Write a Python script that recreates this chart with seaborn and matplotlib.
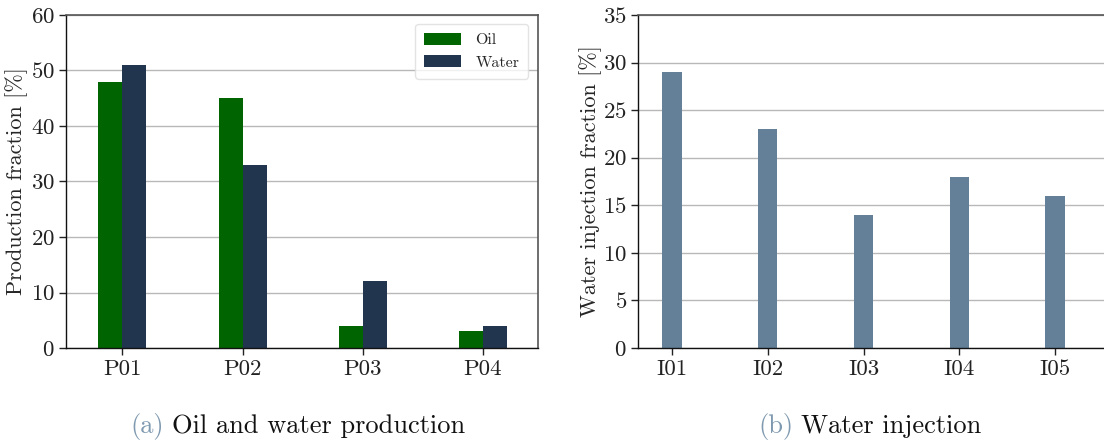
import numpy as np
import pandas as pd
import matplotlib
matplotlib.use("Agg")
import matplotlib.pyplot as plt
import seaborn as sns

# data
producers = ["P01", "P02", "P03", "P04"]
oil_frac = [48, 45, 4, 3]
water_frac = [51, 33, 12, 4]

injectors = ["I01", "I02", "I03", "I04", "I05"]
inj_frac = [29, 23, 14, 18, 16]

prod = pd.DataFrame({
    "well": producers * 2,
    "phase": ["Oil"] * len(producers) + ["Water"] * len(producers),
    "frac": oil_frac + water_frac,
})
inj = pd.DataFrame({"well": injectors, "frac": inj_frac})

sns.set_theme(style="ticks")
plt.rcParams["font.family"] = ["cmr10"]
plt.rcParams["mathtext.fontset"] = "cm"
plt.rcParams["axes.formatter.use_mathtext"] = True
plt.rcParams["axes.unicode_minus"] = False

fig = plt.figure(figsize=(11.04, 4.44), dpi=100)
W, H = 1104, 444
ax1 = fig.add_axes([66 / W, 1 - 348 / H, 472 / W, 333 / H])
ax2 = fig.add_axes([638 / W, 1 - 348 / H, 475 / W, 333 / H])

# (a) oil and water production
sns.barplot(data=prod, x="well", y="frac", hue="phase", ax=ax1,
            palette=["#006400", "#22354f"], width=0.4, saturation=1,
            linewidth=0)
ax1.set_ylim(0, 60)
ax1.set_yticks(range(0, 61, 10))
ax1.set_xlim(-0.47, 3.46)
ax1.set_xlabel("")
ax1.set_ylabel("Production fraction [%]", fontsize=16)
ax1.yaxis.set_label_coords(-0.081, 0.5)
leg = ax1.legend(loc="upper right", bbox_to_anchor=(0.979, 0.973),
                 borderaxespad=0, fontsize=11.5, handlelength=2.3,
                 handleheight=0.78, frameon=True, fancybox=True,
                 borderpad=0.55, labelspacing=0.5, handletextpad=0.9)
leg.get_frame().set_edgecolor("#dddddd")

# (b) water injection
sns.barplot(data=inj, x="well", y="frac", ax=ax2, color="#647f98",
            width=0.2, saturation=1, linewidth=0)
ax2.set_ylim(0, 35)
ax2.set_yticks(range(0, 36, 5))
ax2.set_xlim(-0.355, 4.605)
ax2.set_xlabel("")
ax2.set_ylabel("Water injection fraction [%]", fontsize=16)
ax2.yaxis.set_label_coords(-0.075, 0.5)

for ax in (ax1, ax2):
    ax.set_axisbelow(True)
    ax.yaxis.grid(True, color="#b8b8b8", linewidth=1)
    ax.xaxis.grid(False)
    ax.tick_params(axis="both", labelsize=16.5, length=5, width=1,
                   colors="#222222", direction="out", pad=3)
    ax.tick_params(top=False, right=False)
    for s in ("left", "bottom"):
        ax.spines[s].set_color("#111111")
        ax.spines[s].set_linewidth(1)
    for s in ("top", "right"):
        ax.spines[s].set_color("#555555")
        ax.spines[s].set_linewidth(1.2)
    ax.set_facecolor("white")

# captions
cap_col = "#7e99b0"
for x0, tag, txt in [(130, "(a)", "Oil and water production"),
                     (758, "(b)", "Water injection")]:
    t = fig.text(x0 / W, 1 - 426 / H, tag, color=cap_col, fontsize=19,
                 va="center")
    fig.canvas.draw()
    bb = t.get_window_extent()
    fig.text((bb.x1 + 8) / W, 1 - 426 / H, txt, color="#111111",
             fontsize=19, va="center")

fig.savefig("out.png", dpi=100, facecolor="white")
